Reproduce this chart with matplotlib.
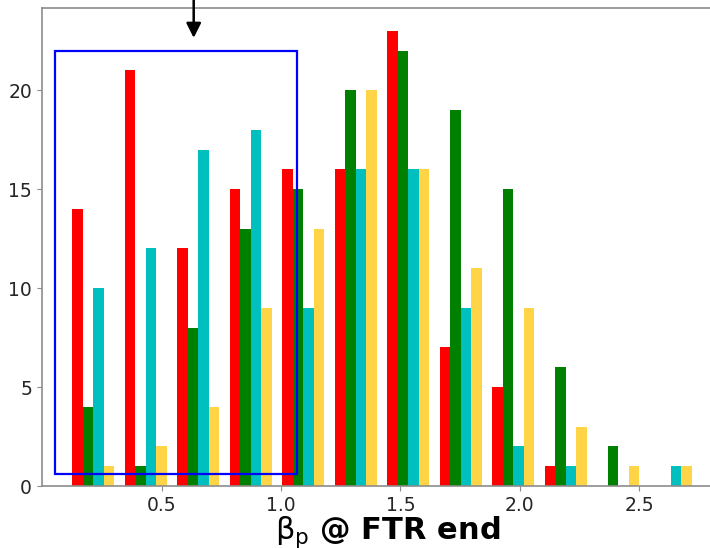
import numpy as np
import matplotlib
matplotlib.use("Agg")
import matplotlib.pyplot as plt
from matplotlib.patches import Rectangle

# histogram bins (beta_p at FTR end)
bin_edges = np.linspace(0.102, 2.743, 13)
bin_centers = 0.5 * (bin_edges[:-1] + bin_edges[1:])

counts_red = [14, 21, 12, 15, 16, 16, 23, 7, 5, 1, 0, 0]
counts_green = [4, 1, 8, 13, 15, 20, 22, 19, 15, 6, 2, 0]
counts_cyan = [10, 12, 17, 18, 9, 16, 16, 9, 2, 1, 0, 1]
counts_gold = [1, 2, 4, 9, 13, 20, 16, 11, 9, 3, 1, 1]

colors = ['red', 'green', 'c', '#ffd447']
x_ticks = [0.5, 1.0, 1.5, 2.0, 2.5]

# highlighted region and arrow marker
box_x = (0.054, 1.067)
box_y = (0.59, 22.0)
arrow_x = 0.634

fig = plt.figure(figsize=(7.1, 5.48), dpi=100)
ax = fig.add_axes([41.7 / 710, 62 / 548, (712 - 41.7) / 710, (540 - 62) / 548])

ax.hist([bin_centers] * 4, bins=bin_edges,
        weights=[counts_red, counts_green, counts_cyan, counts_gold],
        color=colors)

ax.add_patch(Rectangle((box_x[0], box_y[0]), box_x[1] - box_x[0], box_y[1] - box_y[0],
                       fill=False, edgecolor='blue', lw=1.6, zorder=5))
ax.annotate('', xy=(arrow_x, 22.5), xytext=(arrow_x, 26.5),
            arrowprops=dict(arrowstyle='-|>', color='k', lw=1.8, mutation_scale=22),
            annotation_clip=False)

ax.set_xlim(-0.003, 2.806)
ax.set_ylim(0, 24.15)
ax.set_xticks(x_ticks)
ax.set_yticks([0, 5, 10, 15, 20])

for s in ax.spines.values():
    s.set_color('#8c8c8c')
    s.set_linewidth(1.2)
ax.tick_params(colors='#8c8c8c', labelcolor='#262626', labelsize=13.5, length=3.5)

ax.set_xlabel(r'$\mathrm{\beta_p}$ @ FTR end', fontsize=22, fontweight='bold', color='black')
ax.xaxis.set_label_coords(388 / 710, 8.7 / 548, transform=fig.transFigure)
ax.xaxis.label.set_verticalalignment('baseline')

fig.savefig('out.png', dpi=100)
